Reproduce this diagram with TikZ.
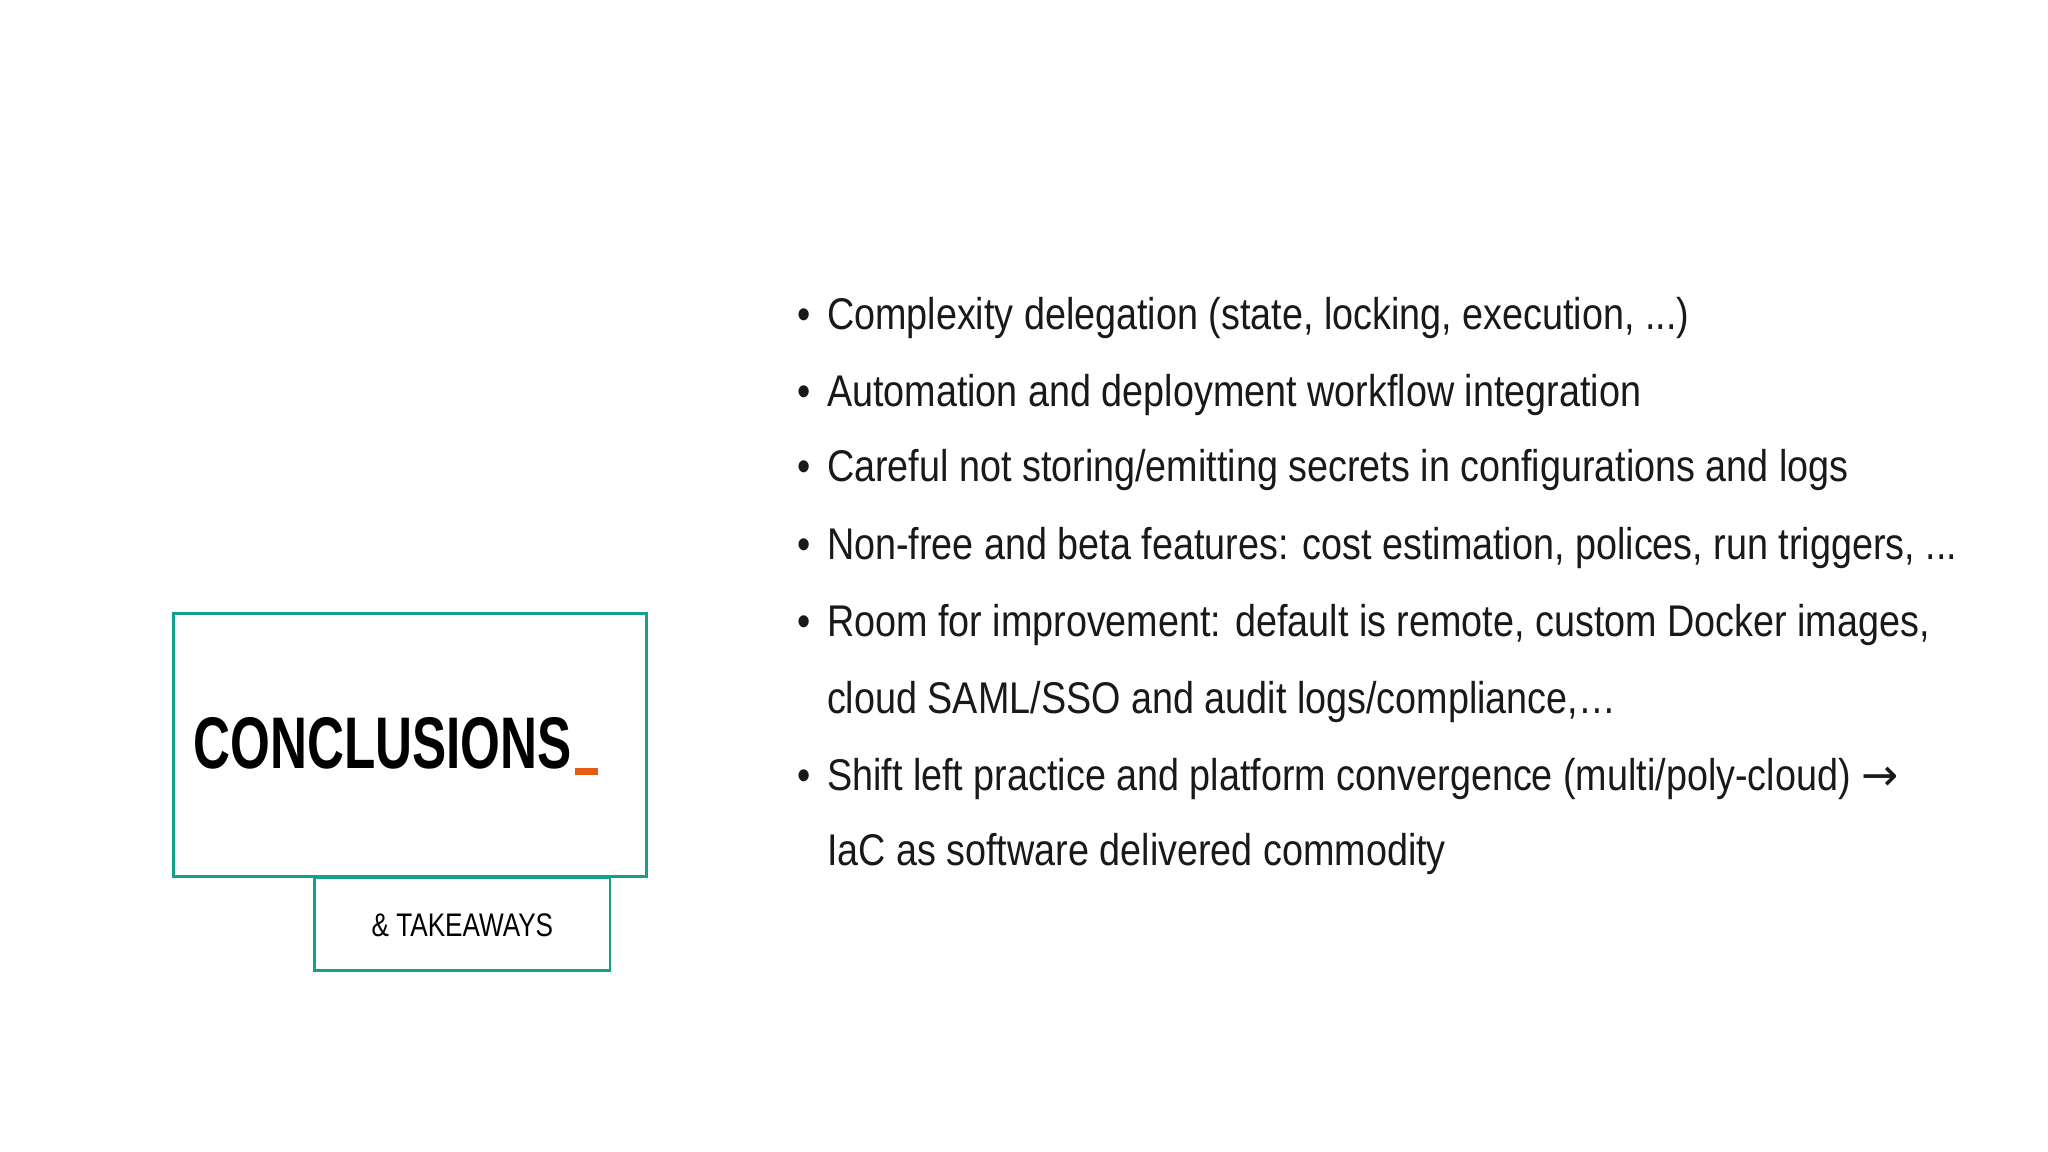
\documentclass[tikz,border=0pt]{standalone}
\usepackage{fontspec}
\setmainfont{Liberation Sans}[FakeStretch=0.85]
\newfontfamily\headfont{Liberation Sans}[FakeStretch=0.70]
\newfontfamily\subfont{Liberation Sans}[FakeStretch=0.80]
\newfontfamily\symfont{DejaVu Sans}
\definecolor{teal1}{RGB}{20,160,140}
\definecolor{orng}{RGB}{230,90,20}
\tikzset{
 frame/.style={draw=teal1,line width=2.2pt},
 item/.style={anchor=base west,inner sep=0pt,font=\fontsize{34}{40}\selectfont,text=black!90},
 dot/.style={anchor=base west,inner sep=0pt,font=\fontsize{34}{40}\selectfont,text=black!90}
}
\begin{document}
\begin{tikzpicture}[x=1pt,y=-1pt]
\useasboundingbox (0,0) rectangle (1568,882);
\draw[frame] (133,470) rectangle (495,671);
\draw[frame] (241,672) rectangle (467,743);
\node[anchor=base west,inner sep=0pt,font=\headfont\bfseries\fontsize{56}{60}\selectfont] (t) at (148,588) {CONCLUSIONS};
\fill[orng] (t.base east)++(2,0) rectangle ++(18,5);
\node[anchor=base,inner sep=0pt,font=\subfont\fontsize{25}{30}\selectfont] (s) at (354,717) {\& TAKEAWAYS};
\foreach \y/\t [count=\i] in {
 252/{Complexity delegation (state, locking, execution, ...)},
 311/{Automation and deployment workflow integration},
 369/{Careful not storing/emitting secrets in configurations and logs},
 428/{Non-free and beta features: cost estimation, polices, run triggers, ...},
 487/{Room for improvement: default is remote, custom Docker images,},
 605/{Shift left practice and platform convergence (multi/poly-cloud) {\symfont\symbol{"2192}}}}
 {\node[dot] (b\i) at (610,\y) {\textbullet};
  \node[item] (l\i) at (633,\y) {\t};}
\node[item] (c1) at (633,546) {cloud SAML/SSO and audit logs/compliance,\symbol{"2026}};
\node[item] (c2) at (633,663) {IaC as software delivered commodity};
\end{tikzpicture}
\end{document}
